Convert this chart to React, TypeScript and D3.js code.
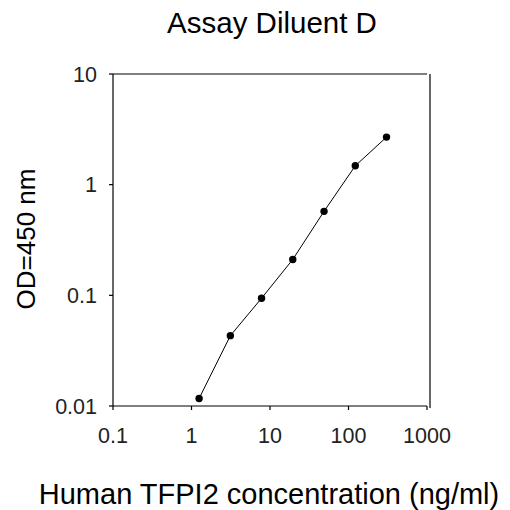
import React from 'react';
import * as d3 from 'd3';

// TFPI2 standard curve (2.5-fold dilution series)
const concentrations = [1.25, 3.125, 7.8, 19.5, 48.8, 122, 305];
const odValues = [0.0117, 0.0432, 0.094, 0.211, 0.574, 1.48, 2.69];

const xTicks = [0.1, 1, 10, 100, 1000];
const yTicks = [0.01, 0.1, 1, 10];

const WIDTH = 510;
const HEIGHT = 510;

const margin = {
  top: 74,
  right: 83,
  bottom: 104,
  left: 113
};

const FONT = '"Liberation Sans", Arial, sans-serif';

export default function App() {
  const chartWidth = WIDTH - margin.left - margin.right;
  const chartHeight = HEIGHT - margin.top - margin.bottom;

  const points = concentrations.map((c, i) => ({ x: c, y: odValues[i] }));

  const xScale = d3.scaleLog().domain([0.1, 1000]).range([0, chartWidth]);
  const yScale = d3.scaleLog().domain([0.01, 10]).range([chartHeight, 0]);

  const line = d3
    .line<{ x: number; y: number }>()
    .x(d => xScale(d.x))
    .y(d => yScale(d.y))
    .curve(d3.curveLinear);

  const fmt = (v: number) => String(v);

  return (
    <svg
      width={WIDTH}
      height={HEIGHT}
      style={{ position: 'absolute', left: 0, top: 0, background: '#fff' }}
      fontFamily={FONT}
    >
      {/* title */}
      <text x={272} y={33} fontSize={29.5} textAnchor="middle" fill="#000">
        Assay Diluent D
      </text>

      <g transform={`translate(${margin.left},${margin.top})`}>
        {/* frame */}
        <line x1={0} x2={chartWidth} y1={0} y2={0} stroke="#000" strokeWidth={1.2} />
        <line x1={chartWidth + 3} x2={chartWidth + 3} y1={0} y2={chartHeight + 2} stroke="#000" strokeWidth={1.2} />
        <line x1={0} x2={0} y1={0} y2={chartHeight} stroke="#000" strokeWidth={1.2} />
        <line x1={0} x2={chartWidth} y1={chartHeight} y2={chartHeight} stroke="#000" strokeWidth={1.2} />

        {/* x axis */}
        {xTicks.map((d, i) => {
          const x = xScale(d);
          return (
            <g key={i} transform={`translate(${x},${chartHeight})`}>
              <line y1={0} y2={4} stroke="#000" strokeWidth={1.2} />
              <text y={37} fontSize={21.5} textAnchor="middle" fill="#222">
                {fmt(d)}
              </text>
            </g>
          );
        })}

        {/* y axis */}
        {yTicks.map((d, i) => {
          const y = yScale(d);
          return (
            <g key={i} transform={`translate(0,${y})`}>
              <line x1={-4} x2={0} stroke="#000" strokeWidth={1.2} />
              <text x={-16} y={7.5} fontSize={21.5} textAnchor="end" fill="#222">
                {fmt(d)}
              </text>
            </g>
          );
        })}

        {/* curve */}
        <path d={line(points) || ''} stroke="#000" fill="none" strokeWidth={1} />
        {points.map((d, i) => (
          <circle key={i} cx={xScale(d.x)} cy={yScale(d.y)} r={3.7} fill="#000" />
        ))}
      </g>

      {/* axis titles */}
      <text x={269} y={504} fontSize={29} textAnchor="middle" fill="#000">
        Human TFPI2 concentration (ng/ml)
      </text>
      <text
        transform={`translate(35,239) rotate(-90)`}
        fontSize={26}
        textAnchor="middle"
        fill="#000"
      >
        OD=450 nm
      </text>
    </svg>
  );
}
